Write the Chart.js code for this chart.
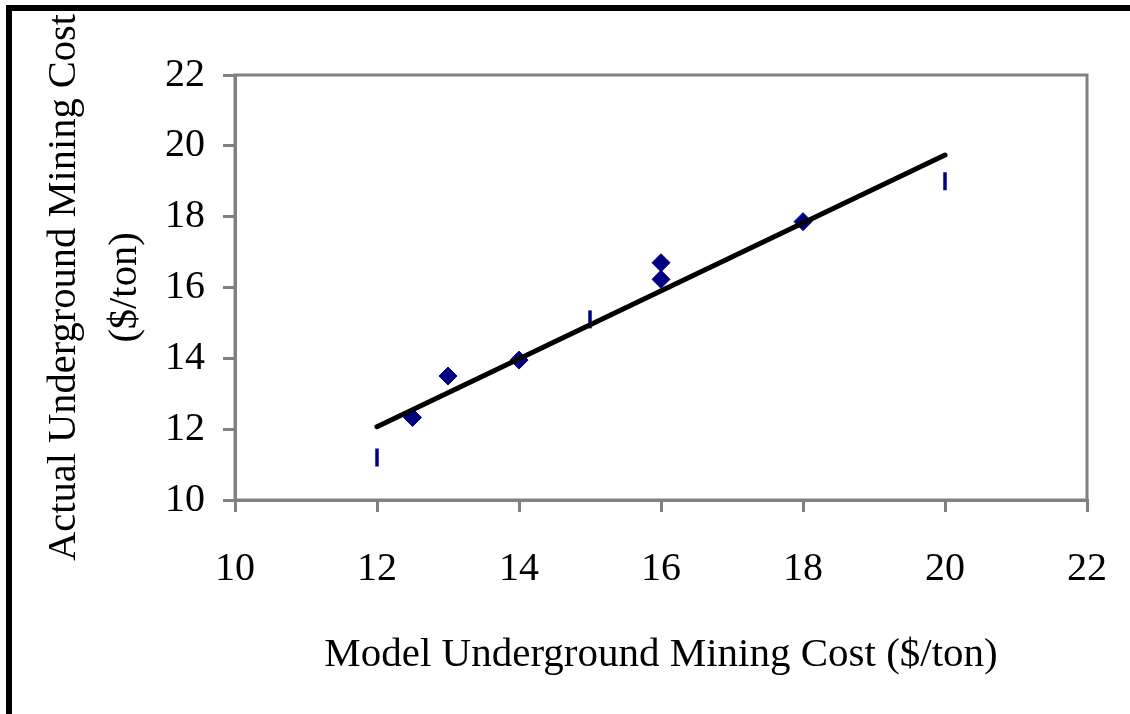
<!DOCTYPE html>
<html>
<head>
<meta charset="utf-8">
<title>Underground Mining Cost</title>
<script src="https://cdn.jsdelivr.net/npm/chart.js@4.4.1/dist/chart.umd.min.js"></script>
<style>
    html, body { margin: 0; padding: 0; background: #fff; overflow: hidden; }
    #wrap { position: relative; width: 1130px; height: 714px; overflow: hidden; }
    #frame {
        position: absolute; left: 6px; top: 5px; width: 1300px; height: 900px;
        border-left: 6px solid #000; border-top: 6px solid #000;
    }
    #costChart { position: absolute; left: 0; top: 0; }
</style>
</head>
<body>
<div id="wrap">
    <div id="frame"></div>
    <canvas id="costChart" width="1130" height="714"></canvas>
</div>
<script>
// Mine sites: model estimate vs actual cost ($/ton)
const actualX = [12.5, 13, 14, 16, 16, 18];
const actualY = [12.33, 13.5, 13.95, 16.7, 16.23, 17.86];

// Sites plotted with the bar marker
const barX = [12, 15, 20];
const barY = [11.2, 15.1, 19.0];

// Fitted trend line end points
const trendX = [12, 20];
const trendY = [12.07, 19.74];

const axisMin = 10;
const axisMax = 22;
const axisStep = 2;

const xTitle = 'Model Underground Mining Cost ($/ton)';
const yTitle = ['Actual Underground Mining Cost', '($/ton)'];

const toPoints = (xs, ys) => xs.map((x, i) => ({ x: x, y: ys[i] }));

const serif = '"Liberation Serif", "Times New Roman", serif';
const grey = '#808080';
const navy = '#000080';

// grey box round the plotting area
const plotFrame = {
    id: 'plotFrame',
    afterDraw(chart) {
        const { ctx, chartArea: a } = chart;
        ctx.save();
        ctx.strokeStyle = grey;
        ctx.lineWidth = 3;
        ctx.strokeRect(a.left, a.top, a.right - a.left, a.bottom - a.top);
        ctx.restore();
    }
};

function axisOptions(title, fit) {
    return {
        type: 'linear',
        min: axisMin,
        max: axisMax,
        ticks: {
            stepSize: axisStep,
            color: '#000',
            font: { family: serif, size: 40, lineHeight: 1.2 },
            padding: fit.tickPad
        },
        grid: {
            drawOnChartArea: false,
            drawTicks: true,
            tickLength: 12,
            color: grey,
            lineWidth: 3
        },
        border: { display: true, color: grey, width: 3 },
        title: {
            display: true,
            text: title,
            color: '#000',
            font: { family: serif, size: fit.titleSize, lineHeight: fit.titleLine },
            padding: fit.titlePad
        },
        afterFit: fit.afterFit
    };
}

new Chart(document.getElementById('costChart'), {
    type: 'scatter',
    data: {
        datasets: [
            {
                type: 'line',
                label: 'Trend',
                data: toPoints(trendX, trendY),
                borderColor: '#000',
                borderWidth: 5,
                borderCapStyle: 'round',
                pointRadius: 0,
                fill: false,
                order: 0
            },
            {
                label: 'Actual',
                data: toPoints(actualX, actualY),
                pointStyle: 'rectRot',
                pointRadius: 9,
                backgroundColor: navy,
                borderColor: navy,
                borderWidth: 1,
                order: 1
            },
            {
                label: 'Bar marker',
                data: toPoints(barX, barY),
                pointStyle: 'line',
                rotation: 90,
                pointRadius: 9,
                borderColor: navy,
                borderWidth: 3.5,
                order: 2
            }
        ]
    },
    options: {
        responsive: false,
        animation: false,
        devicePixelRatio: 1,
        layout: { padding: { left: 0, top: 75, right: 43, bottom: 0 } },
        plugins: {
            legend: { display: false },
            tooltip: { enabled: false }
        },
        scales: {
            x: axisOptions(xTitle, {
                tickPad: 33,
                titleSize: 41,
                titleLine: 1.2,
                titlePad: { top: 0, bottom: 34 },
                afterFit: s => {
                    s.height = 214;
                    s.paddingLeft = 0;
                    s.paddingRight = 0;
                }
            }),
            y: axisOptions(yTitle, {
                tickPad: 18,
                titleSize: 40.5,
                titleLine: 1.5,
                titlePad: { top: 34, bottom: 0 },
                afterFit: s => { s.width = 235; }
            })
        }
    },
    plugins: [plotFrame]
});
</script>
</body>
</html>
